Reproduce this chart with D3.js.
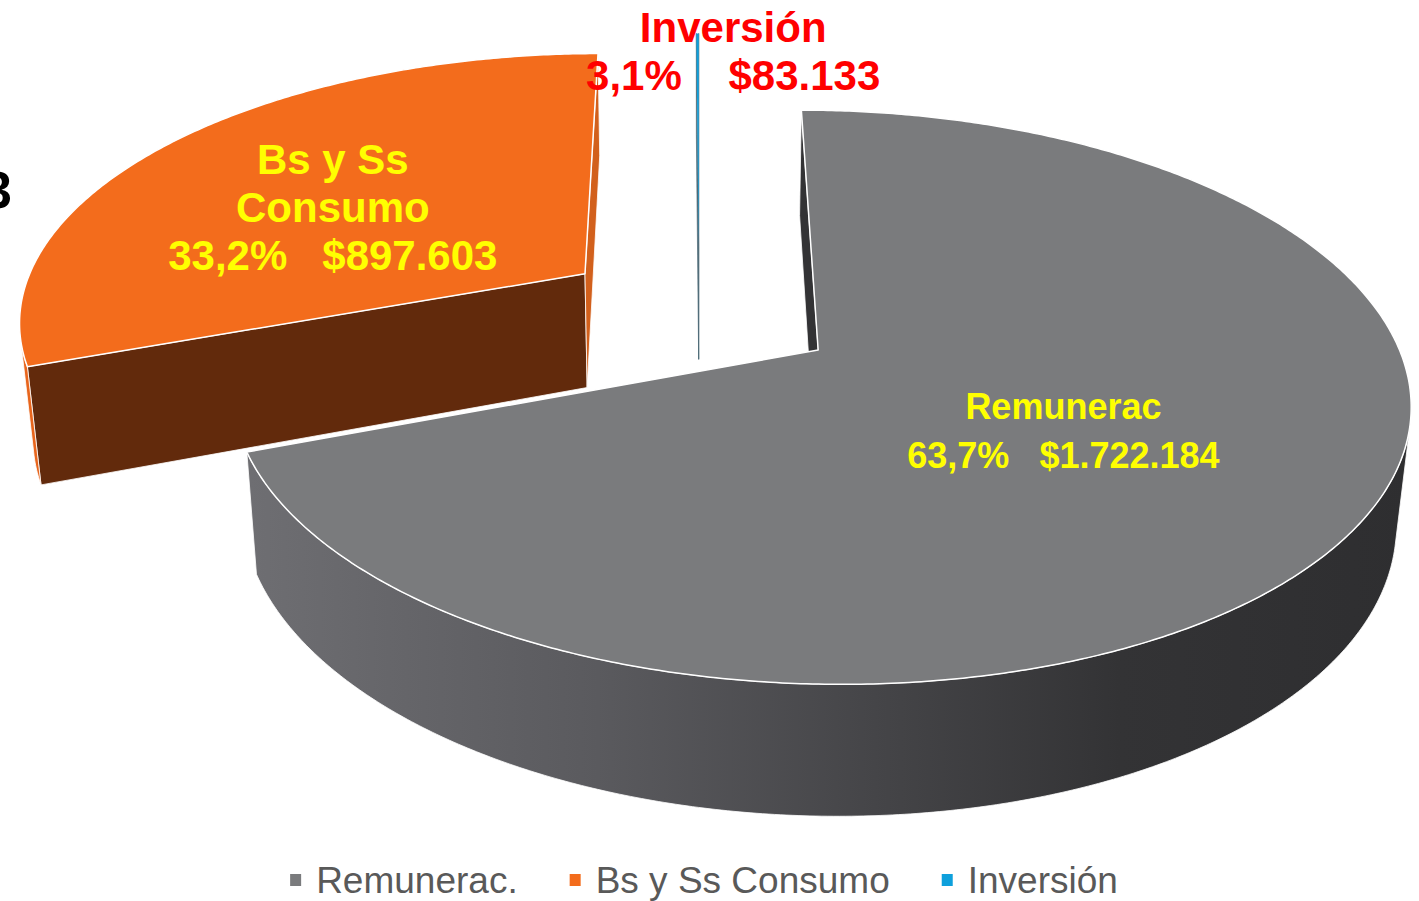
<!DOCTYPE html>
<html>
<head>
<meta charset="utf-8">
<title>Gasto por subtítulo</title>
<style>
html, body {
  margin: 0;
  padding: 0;
  background: #fff;
}
svg { display: block; }
.lbl {
  font-family: 'Liberation Sans', Arial, sans-serif;
  font-weight: bold;
}
.legend text {
  font-family: 'Liberation Sans', Arial, sans-serif;
  font-size: 37px;
  fill: #595959;
}
</style>
<script src="https://d3js.org/d3.v7.min.js"></script>
</head>
<body>
<svg width="1419" height="901"></svg>
<script>

// --- data -------------------------------------------------------------
var categories = ["Remunerac.", "Bs y Ss Consumo", "Inversión"];
var labelNames = [["Remunerac"], ["Bs y Ss", "Consumo"], ["Inversión"]];
var amounts = [1722184, 897603, 83133];
// size of each slice as it is drawn in the picture (%)
var drawnShare = [69.4, 30.52, 0.08];

// --- look -------------------------------------------------------------
var faceStyle = [
  {top: "#7a7b7d", side: "url(#remSide)", w0: "#333335", w1: "#4a4a4c"},
  {top: "#f36c1c", side: "#e8651c", w0: "#622a0c", w1: "#d2601c"},
  {top: "#0ea0dc", side: "#0b6e98", w0: "#4f6b78", w1: "#4f6b78"}
];
var labelStyle = [
  {color: "#ffff00", size: 36, lh: 49, gap: 3, r: 0.48, da: 0},
  {color: "#ffff00", size: 42, lh: 48, gap: 3, r: 0.554, da: -5.3},
  {color: "#ff0000", size: 42, lh: 48, gap: 4, r: 0.907, da: 4.7}
];

var svg = d3.select("svg"),
    width = +svg.attr("width"),
    height = +svg.attr("height");

// simple perspective camera looking down on the pie (radius 1)
var tilt = 28 * Math.PI / 180,
    ct = Math.cos(tilt), st = Math.sin(tilt),
    camD = 5.5, focal = 3124, px = 699, py = 311;
var camZ = -camD * ct;
var explode = 0.25, thick = 0.235;

function project(p) {
  var depth = camD + p[2] * ct - p[1] * st;
  var yc = p[1] * ct + p[2] * st;
  return [px + focal * p[0] / depth, py - focal * yc / depth];
}

var line = d3.line();
function poly(pts) { return line(pts.map(project)) + "Z"; }

function rimAngles(a0, a1) {
  var n = Math.max(2, Math.ceil((a1 - a0) / (0.5 * Math.PI / 180)));
  return d3.range(n + 1).map(function(k) { return a0 + (a1 - a0) * k / n; });
}

var defs = svg.append("defs");
var grad = defs.append("linearGradient")
    .attr("id", "remSide")
    .attr("gradientUnits", "userSpaceOnUse")
    .attr("x1", 250).attr("x2", 1410).attr("y1", 0).attr("y2", 0);
[[0, "#6e6e72"], [0.3, "#5a5a5e"], [0.55, "#444447"], [0.75, "#333335"], [1, "#2e2e30"]]
  .forEach(function(s) { grad.append("stop").attr("offset", s[0]).attr("stop-color", s[1]); });

var pie = d3.pie().sort(null);
var slices = pie(drawnShare).map(function(a, i) {
  var mid = (a.startAngle + a.endAngle) / 2;
  return {i: i, a0: a.startAngle, a1: a.endAngle, mid: mid,
          ox: explode * Math.sin(mid), oz: explode * Math.cos(mid)};
});

function rim(s, th, y) { return [s.ox + Math.sin(th), y, s.oz + Math.cos(th)]; }

var chart = svg.append("g").attr("class", "pie");

// far slices first
slices.slice().sort(function(a, b) { return b.oz - a.oz; }).forEach(function(s) {
  var fs = faceStyle[s.i];
  var thin = (s.a1 - s.a0) < 0.05;
  var g = chart.append("g");
  var apexT = [s.ox, 0, s.oz], apexB = [s.ox, -thick, s.oz];

  function wall(d, fill) {
    g.append("path").attr("d", d).attr("fill", fill)
      .attr("stroke", thin ? fill : "#fff")
      .attr("stroke-width", thin ? 0.7 : 0.8)
      .attr("stroke-linejoin", "round");
  }

  // radial walls
  if (s.ox * Math.cos(s.a0) + (camZ - s.oz) * Math.sin(s.a0) > 0)
    wall(poly([apexT, rim(s, s.a0, 0), rim(s, s.a0, -thick), apexB]), fs.w0);
  if (-s.ox * Math.cos(s.a1) - (camZ - s.oz) * Math.sin(s.a1) > 0)
    wall(poly([apexT, rim(s, s.a1, 0), rim(s, s.a1, -thick), apexB]), fs.w1);

  // outer wall, only the part facing the camera
  var ths = rimAngles(s.a0, s.a1);
  var runs = [], cur = null;
  ths.forEach(function(th) {
    var vis = -s.ox * Math.sin(th) + (camZ - s.oz) * Math.cos(th) - 1 > 0;
    if (vis) {
      if (!cur) { cur = []; runs.push(cur); }
      cur.push(th);
    } else cur = null;
  });
  runs.forEach(function(run) {
    if (run.length < 2) return;
    var pts = run.map(function(th) { return rim(s, th, 0); })
      .concat(run.slice().reverse().map(function(th) { return rim(s, th, -thick); }));
    wall(poly(pts), fs.side);
  });

  // top face
  var topPts = [apexT].concat(ths.map(function(th) { return rim(s, th, 0); }));
  g.append("path").attr("d", poly(topPts))
    .attr("fill", fs.top)
    .attr("stroke", thin ? "none" : "#fff")
    .attr("stroke-width", 1.5)
    .attr("stroke-linejoin", "round");
});

// --- labels -----------------------------------------------------------
var total = d3.sum(amounts);
var pctFmt = d3.format(".1f");
var money = d3.formatLocale({decimal: ",", thousands: ".", grouping: [3], currency: ["$", ""]}).format("$,.0f");

slices.forEach(function(s) {
  var ls = labelStyle[s.i];
  var ang = s.mid + ls.da * Math.PI / 180;
  var at = project([s.ox + ls.r * Math.sin(ang), 0, s.oz + ls.r * Math.cos(ang)]);
  var pct = pctFmt(amounts[s.i] / total * 100).replace(".", ",") + "%";
  var lines = labelNames[s.i].concat([pct + d3.range(ls.gap).map(function() { return "\u00a0"; }).join("") + money(amounts[s.i])]);
  var capH = ls.size * 0.716;
  var t = svg.append("text").attr("class", "lbl")
      .attr("text-anchor", "middle")
      .attr("fill", ls.color)
      .attr("font-size", ls.size);
  lines.forEach(function(txt, k) {
    t.append("tspan")
      .attr("x", at[0])
      .attr("y", at[1] + (k - (lines.length - 1) / 2) * ls.lh + capH / 2)
      .text(txt);
  });
});

// clipped text at the left edge
svg.append("text").attr("class", "lbl")
  .attr("x", 12).attr("y", 208)
  .attr("text-anchor", "end")
  .attr("font-size", 52)
  .attr("fill", "#000")
  .text("3");

// --- legend -----------------------------------------------------------
var legend = svg.append("g").attr("class", "legend");
var items = legend.selectAll("g").data(categories).enter().append("g");
items.append("rect")
  .attr("width", 11).attr("height", 12)
  .attr("y", -6)
  .attr("fill", function(d, i) { return faceStyle[i].top; });
items.append("text")
  .attr("x", 26).attr("y", 13)
  .text(function(d) { return d; });

var xpos = 0, itemGap = 52;
items.each(function() {
  var w = this.getBBox().width;
  d3.select(this).attr("transform", "translate(" + xpos + ",0)");
  xpos += w + itemGap;
});
var legendW = xpos - itemGap;
legend.attr("transform", "translate(" + (704 - legendW / 2) + "," + 880 + ")");

</script>
</body>
</html>
